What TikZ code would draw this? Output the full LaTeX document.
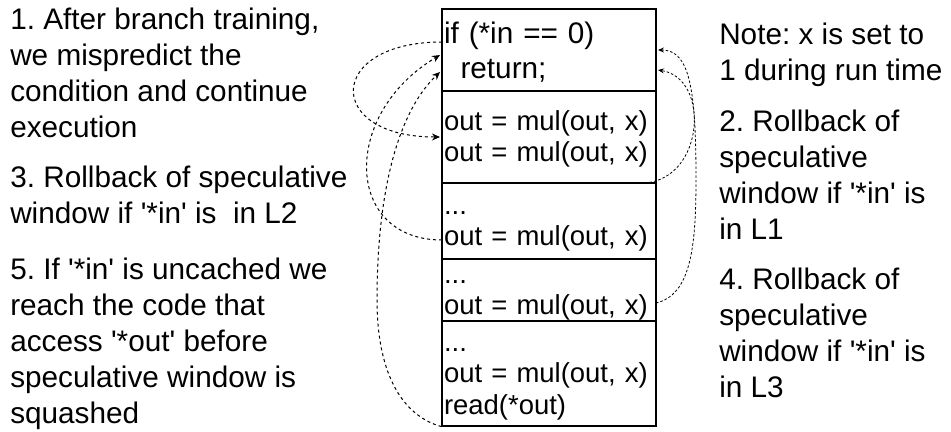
\documentclass[tikz,border=0pt]{standalone}
\usepackage{fontspec}
\setmainfont{Liberation Sans}
\usetikzlibrary{arrows.meta}
\frenchspacing
% straight apostrophe and line struts for the listing
\newcommand\tq{\textquotesingle}
\newcommand\cstrut{\rule[-5pt]{0pt}{23.6pt}}
\newcommand\hstrut{\rule[-3.75pt]{0pt}{24pt}}
\begin{document}
\begin{tikzpicture}[x=0.75pt,y=-0.75pt,
  note/.style={anchor=north west,inner sep=0pt,align=left,
    font=\fontsize{22.3pt}{27pt}\selectfont},
  codebox/.style={draw,line width=0.9pt,minimum width=160.5pt,
    inner xsep=1.5pt,inner ysep=0pt,text width=157.5pt,align=left,
    font=\fontsize{20.6pt}{23.6pt}\selectfont},
  headbox/.style={codebox,font=\fontsize{22.3pt}{24pt}\selectfont},
  jumpback/.style={line width=0.75pt,
    dash pattern=on 2.25pt off 2.25pt,-{Stealth[length=6pt,width=5.25pt]}},
  rollback/.style={line width=0.6pt,
    dash pattern=on 1.9pt off 1.5pt,-{Stealth[length=4.5pt,width=3.75pt,inset=1.5pt]}}]
\useasboundingbox (0,0) rectangle (951,432);

% code listing split into its speculative sections
\node[headbox,minimum height=61.5pt]  (sec1) at (549,50)
  {\hstrut if (*in == 0)\\\hstrut\hspace*{12.4pt}return;};
\node[codebox,minimum height=69pt]    (sec2) at (549,137)
  {\cstrut out = mul(out, x)\\\cstrut out = mul(out, x)};
\node[codebox,minimum height=57pt]    (sec3) at (549,221)
  {\cstrut ...\\\cstrut out = mul(out, x)};
\node[codebox,minimum height=46.5pt]  (sec4) at (549,290)
  {\cstrut ...\\\cstrut out = mul(out, x)};
\node[codebox,minimum height=78.75pt] (sec5) at (549,373.5)
  {\cstrut ...\\\cstrut out = mul(out, x)\\\cstrut read(*out)};

% explanations on the left
\node[note] (step1) at (10,8)   {1. After branch training,\\we mispredict the\\condition and continue\\execution};
\node[note] (step3) at (10,166) {3. Rollback of speculative\\window if \tq*in\tq{} is \ in L2};
\node[note] (step5) at (10,258) {5. If \tq*in\tq{} is uncached we\\reach the code that\\access \tq*out\tq{} before\\speculative window is\\squashed};

% explanations on the right
\node[note] (remark) at (719,23)  {Note: x is set to\\1 during run time};
\node[note] (step2)  at (719,110) {2. Rollback of\\speculative\\window if \tq*in\tq{} is\\in L1};
\node[note] (step4)  at (719,268) {4. Rollback of\\speculative\\window if \tq*in\tq{} is\\in L3};

% anchor points on the listing
\coordinate (ifout)   at (442,42);
\coordinate (mulin)   at (440,137);
\coordinate (ifinA)   at (440,55);
\coordinate (ifinB)   at (440,72);
\coordinate (l2out)   at (442,240);
\coordinate (memout)  at (sec5.south west);
\coordinate (ifinC)   at (658,50);
\coordinate (ifinD)   at (658,70);
\coordinate (l1out)   at (645,183);
\coordinate (l3out)   at (656,303);

% left-hand connectors
\draw[jumpback] (ifout) .. controls (326,42) and (324,137) .. (mulin);
\draw[jumpback] (l2out) .. controls (345,240) and (340,115) .. (ifinA);
\draw[jumpback] (memout) .. controls (400,415) and (377,370) .. (377,300)
                 .. controls (377,200) and (395,115) .. (ifinB);

% right-hand connectors
\draw[rollback] (l1out) .. controls (705,178) and (710,78) .. (ifinD);
\draw[rollback] (l3out) .. controls (690,295) and (696,250) .. (696,180)
                 .. controls (696,90) and (690,50) .. (ifinC);
\end{tikzpicture}
\end{document}
